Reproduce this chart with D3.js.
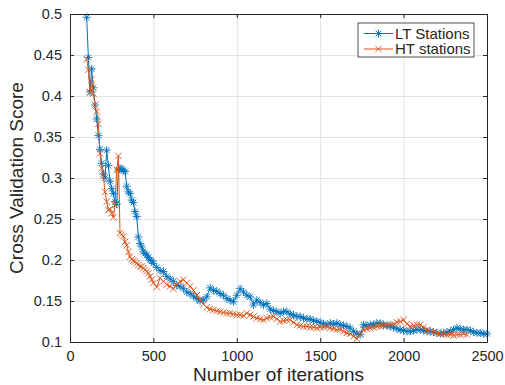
<!DOCTYPE html>
<html>
<head>
<meta charset="utf-8">
<script src="https://cdn.jsdelivr.net/npm/d3@7"></script>
<style>
  body { margin: 0; background: #fff; }
  svg text { font-family: "Liberation Sans", Arial, Helvetica, sans-serif; fill: #262626; }
</style>
</head>
<body>
<div id="chart"></div>
<script>
// iterations: every 10 up to 500, then every 20
var iterations = d3.range(100, 501, 10).concat(d3.range(520, 2501, 20));

var ltStations = [
  0.496,0.447,0.405,0.433,0.410,0.389,0.372,0.352,0.335,0.318,
  0.305,0.300,0.334,0.315,0.296,0.287,0.281,0.271,0.268,0.310,
  0.312,0.311,0.309,0.308,0.290,0.283,0.281,0.273,0.270,0.259,
  0.253,0.228,0.220,0.216,0.210,0.208,0.206,0.203,0.200,0.199,
  0.196,
  0.191,0.187,0.186,0.180,0.177,0.174,0.169,0.168,0.165,0.161,
  0.159,0.156,0.153,0.150,0.151,0.155,0.166,0.163,0.162,0.159,
  0.157,0.153,0.151,0.149,0.157,0.165,0.161,0.157,0.155,0.145,
  0.151,0.148,0.145,0.147,0.140,0.138,0.137,0.135,0.137,0.137,
  0.134,0.133,0.131,0.131,0.129,0.128,0.128,0.126,0.125,0.124,
  0.122,0.121,0.123,0.122,0.123,0.121,0.120,0.119,0.117,0.113,
  0.110,0.109,0.121,0.120,0.121,0.121,0.123,0.123,0.121,0.120,
  0.119,0.118,0.116,0.115,0.114,0.113,0.113,0.114,0.115,0.115,
  0.114,0.113,0.113,0.112,0.111,0.110,0.111,0.112,0.113,0.115,
  0.117,0.116,0.115,0.115,0.114,0.112,0.111,0.111,0.110,0.110
];

var htStations = [
  0.445,0.432,0.404,0.420,0.403,0.389,0.381,0.366,0.330,0.312,
  0.302,0.283,0.271,0.261,0.262,0.257,0.252,0.267,0.310,0.327,
  0.233,0.231,0.229,0.222,0.218,0.210,0.204,0.201,0.199,0.198,
  0.196,0.194,0.192,0.192,0.190,0.188,0.186,0.184,0.180,0.176,
  0.172,
  0.167,0.178,0.174,0.170,0.168,0.165,0.170,0.174,0.176,0.172,
  0.168,0.163,0.157,0.151,0.146,0.142,0.140,0.139,0.138,0.137,
  0.136,0.135,0.135,0.134,0.133,0.133,0.132,0.135,0.133,0.131,
  0.129,0.128,0.127,0.129,0.130,0.131,0.128,0.125,0.126,0.127,
  0.127,0.124,0.121,0.120,0.119,0.119,0.118,0.118,0.117,0.118,
  0.118,0.119,0.117,0.116,0.115,0.115,0.113,0.111,0.110,0.107,
  0.104,0.110,0.115,0.116,0.117,0.118,0.119,0.119,0.120,0.121,
  0.121,0.122,0.124,0.125,0.127,0.122,0.119,0.120,0.121,0.121,
  0.118,0.115,0.113,0.112,0.111,0.110,0.110,0.109,0.109,0.108,
  0.109,0.109,0.110,0.109,null,null,null,null,null,null
];

var seriesNames = ["LT Stations", "HT stations"];
var seriesColors = ["#0072BD", "#D95319"];
var xTicks = [0, 500, 1000, 1500, 2000, 2500];
var yTicks = [0.1, 0.15, 0.2, 0.25, 0.3, 0.35, 0.4, 0.45, 0.5];

var width = 505, height = 385;
var margin = {left: 70, top: 14, right: 18, bottom: 43};
var innerW = width - margin.left - margin.right;
var innerH = height - margin.top - margin.bottom;

var svg = d3.select("#chart").append("svg")
    .attr("width", width)
    .attr("height", height);

var x = d3.scaleLinear().domain([0, 2500]).range([0, innerW]);
var y = d3.scaleLinear().domain([0.1, 0.5]).range([innerH, 0]);

var g = svg.append("g")
    .attr("transform", "translate(" + margin.left + "," + margin.top + ")");

// grid
g.append("g").attr("class", "grid")
    .attr("transform", "translate(0," + innerH + ")")
    .call(d3.axisBottom(x).tickValues(xTicks).tickSize(-innerH).tickFormat(""));
g.append("g").attr("class", "grid")
    .call(d3.axisLeft(y).tickValues(yTicks).tickSize(-innerW).tickFormat(""));
g.selectAll(".grid .domain").remove();
g.selectAll(".grid line").attr("stroke", "#e3e3e3").attr("stroke-width", 1);

// data
var data = [ltStations, htStations].map(function(vals, i) {
  return iterations.map(function(it, j) { return {x: it, y: vals[j]}; })
    .filter(function(d) { return d.y != null; });
});

var line = d3.line()
    .x(function(d) { return x(d.x); })
    .y(function(d) { return y(d.y); });

var asterisk = "M-4,0H4M0,-4V4M-2.9,-2.9L2.9,2.9M-2.9,2.9L2.9,-2.9";
var cross = "M-3.2,-3.2L3.2,3.2M-3.2,3.2L3.2,-3.2";
var markers = [asterisk, cross];

data.forEach(function(d, i) {
  g.append("path")
      .datum(d)
      .attr("fill", "none")
      .attr("stroke", seriesColors[i])
      .attr("stroke-width", 1)
      .attr("d", line);
  g.append("g").selectAll("path")
      .data(d)
      .join("path")
      .attr("transform", function(p) { return "translate(" + x(p.x) + "," + y(p.y) + ")"; })
      .attr("d", markers[i])
      .attr("fill", "none")
      .attr("stroke", seriesColors[i])
      .attr("stroke-width", 0.9);
});

// axes
var axisColor = "#262626";
var xAxis = g.append("g")
    .attr("transform", "translate(0," + innerH + ")")
    .call(d3.axisBottom(x).tickValues(xTicks).tickSizeInner(-4).tickSizeOuter(0).tickPadding(9)
      .tickFormat(d3.format("d")));
var yAxis = g.append("g")
    .call(d3.axisLeft(y).tickValues(yTicks).tickSizeInner(-4).tickSizeOuter(0).tickPadding(8)
      .tickFormat(function(d) { return String(+d.toFixed(2)); }));
var xTop = g.append("g")
    .call(d3.axisTop(x).tickValues(xTicks).tickSizeInner(-4).tickSizeOuter(0).tickFormat(""));
var yRight = g.append("g")
    .attr("transform", "translate(" + innerW + ",0)")
    .call(d3.axisRight(y).tickValues(yTicks).tickSizeInner(-4).tickSizeOuter(0).tickFormat(""));

[xAxis, yAxis, xTop, yRight].forEach(function(a) {
  a.select(".domain").attr("stroke", axisColor).attr("stroke-width", 1);
  a.selectAll(".tick line").attr("stroke", axisColor);
  a.selectAll(".tick text").attr("font-size", "14.5px").attr("fill", axisColor)
    .attr("font-family", "Liberation Sans, Arial, sans-serif");
});

// labels
svg.append("text")
    .attr("x", margin.left + innerW / 2)
    .attr("y", 381)
    .attr("text-anchor", "middle")
    .attr("font-size", "19px")
    .text("Number of iterations");

svg.append("text")
    .attr("transform", "translate(23," + (margin.top + innerH / 2) + ") rotate(-90)")
    .attr("text-anchor", "middle")
    .attr("font-size", "19px")
    .text("Cross Validation Score");

// legend
var legend = svg.append("g").attr("transform", "translate(358,23)");
legend.append("rect")
    .attr("width", 116).attr("height", 34)
    .attr("fill", "#fff").attr("stroke", axisColor).attr("stroke-width", 0.8);
seriesNames.forEach(function(name, i) {
  var row = legend.append("g").attr("transform", "translate(0," + (10.5 + i * 15.5) + ")");
  row.append("line").attr("x1", 6).attr("x2", 35).attr("y1", 0).attr("y2", 0)
      .attr("stroke", seriesColors[i]).attr("stroke-width", 1);
  row.append("path").attr("transform", "translate(20.5,0)").attr("d", markers[i])
      .attr("fill", "none").attr("stroke", seriesColors[i]).attr("stroke-width", 0.9);
  row.append("text").attr("x", 37).attr("y", 0).attr("dy", "0.36em")
      .attr("font-size", "15px").text(name);
});
</script>
</body>
</html>
